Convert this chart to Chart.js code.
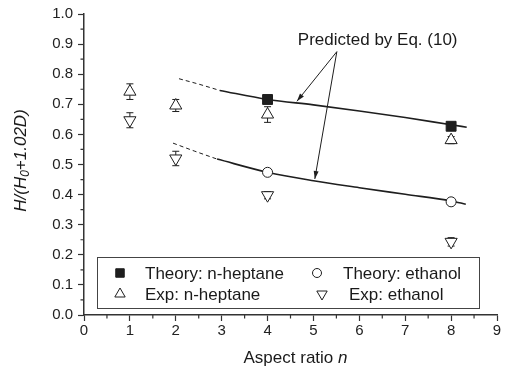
<!DOCTYPE html>
<html lang="en">
<head>
<meta charset="UTF-8">
<title>H/(H0+1.02D) versus aspect ratio</title>
<script src="https://cdn.jsdelivr.net/npm/chart.js@4"></script>
<style>
  html, body { margin: 0; padding: 0; background: #fff; }
  #wrap { width: 510px; height: 375px; }
</style>
</head>
<body>
<div id="wrap"><canvas id="chart"></canvas></div>
<script>
// theory points (Eq. 10) and measurements
const theoryX = [4, 8];
const theoryHeptane = [0.716, 0.627];
const theoryEthanol = [0.474, 0.376];

const expX = [1, 2, 4, 8];
const expHeptane = [0.742, 0.696, 0.666, 0.581];
const expHeptaneErr = [0.026, 0.02, 0.026, 0.012];
const expEthanol = [0.647, 0.52, 0.398, 0.243];
const expEthanolErr = [0.025, 0.024, 0.012, 0.014];

// Eq. (10) curves; the dashed piece is the extension below n = 3
const heptDashX = [2.07, 2.5, 2.96];
const heptDashY = [0.785, 0.767, 0.746];
const heptCurveX = [2.96, 4, 5, 6, 7, 8, 8.34];
const heptCurveY = [0.746, 0.716, 0.698, 0.678, 0.656, 0.632, 0.624];
const ethDashX = [1.94, 2.4, 2.9];
const ethDashY = [0.571, 0.545, 0.518];
const ethCurveX = [2.9, 4, 5, 6, 7, 8, 8.32];
const ethCurveY = [0.518, 0.474, 0.446, 0.423, 0.401, 0.379, 0.368];

// axis ticks
const xTicks = [0, 1, 2, 3, 4, 5, 6, 7, 8, 9];
const xMinor = [0.5, 1.5, 2.5, 3.5, 4.5, 5.5, 6.5, 7.5, 8.5];
const yTicks = [0, 0.1, 0.2, 0.3, 0.4, 0.5, 0.6, 0.7, 0.8, 0.9, 1.0];
const yMinor = [0.05, 0.15, 0.25, 0.35, 0.45, 0.55, 0.65, 0.75, 0.85, 0.95];

// annotation: label position and the two arrow tips (data units)
const noteText = 'Predicted by Eq. (10)';
const noteAt = { x: 6.4, y: 0.911 };
const noteFrom = { x: 5.51, y: 0.875 };
const noteTips = [{ x: 4.64, y: 0.71 }, { x: 5.03, y: 0.452 }];

const INK = '#1e1e1e';
const FONT = "'Liberation Sans', Arial, sans-serif";

const pts = (xs, ys) => xs.map((x, i) => ({ x: x, y: ys[i] }));

function curve(xs, ys, dashed) {
  return {
    type: 'line', data: pts(xs, ys), borderColor: INK, borderWidth: dashed ? 1 : 1.6,
    borderDash: dashed ? [4, 3] : [], pointRadius: 0, tension: 0.4,
    cubicInterpolationMode: 'monotone', fill: false
  };
}

const errorBars = {
  id: 'errorBars',
  beforeDatasetsDraw(chart) {
    const { ctx, scales: { x, y } } = chart;
    ctx.save();
    ctx.strokeStyle = INK;
    ctx.lineWidth = 1;
    chart.data.datasets.forEach(ds => {
      if (!ds.errors) return;
      ds.data.forEach((p, j) => {
        const px = x.getPixelForValue(p.x);
        const top = y.getPixelForValue(p.y + ds.errors[j]);
        const bot = y.getPixelForValue(p.y - ds.errors[j]);
        ctx.beginPath();
        ctx.moveTo(px, top); ctx.lineTo(px, bot);
        ctx.moveTo(px - 3.5, top); ctx.lineTo(px + 3.5, top);
        ctx.moveTo(px - 3.5, bot); ctx.lineTo(px + 3.5, bot);
        ctx.stroke();
      });
    });
    ctx.restore();
  }
};

// minor ticks, axis titles, legend box and the arrow note
const decor = {
  id: 'decor',
  afterDraw(chart) {
    const { ctx, chartArea: a, scales: { x, y } } = chart;
    ctx.save();
    ctx.strokeStyle = '#333';
    ctx.lineWidth = 1.2;
    ctx.beginPath();
    xMinor.forEach(v => { const px = x.getPixelForValue(v); ctx.moveTo(px, a.bottom); ctx.lineTo(px, a.bottom + 3.5); });
    yMinor.forEach(v => { const py = y.getPixelForValue(v); ctx.moveTo(a.left, py); ctx.lineTo(a.left - 3.5, py); });
    ctx.stroke();

    ctx.fillStyle = '#1a1a1a';
    ctx.textBaseline = 'middle';

    // x title: "Aspect ratio n"
    const t1 = 'Aspect ratio ', t2 = 'n';
    ctx.font = '17px ' + FONT;
    const w1 = ctx.measureText(t1).width;
    ctx.font = 'italic 17px ' + FONT;
    const w2 = ctx.measureText(t2).width;
    let sx = (a.left + a.right) / 2 + 5 - (w1 + w2) / 2;
    ctx.textAlign = 'left';
    ctx.font = '17px ' + FONT;
    ctx.fillText(t1, sx, 358);
    ctx.font = 'italic 17px ' + FONT;
    ctx.fillText(t2, sx + w1, 358);

    // y title: H/(H0+1.02D), subscript 0
    ctx.save();
    ctx.translate(21, (a.top + a.bottom) / 2 - 4);
    ctx.rotate(-Math.PI / 2);
    const parts = [['H/(H', 17, 0], ['0', 12, 5], ['+1.02D)', 17, 0]];
    let total = 0;
    parts.forEach(p => { ctx.font = 'italic ' + p[1] + 'px ' + FONT; total += ctx.measureText(p[0]).width; });
    let cx = -total / 2;
    parts.forEach(p => {
      ctx.font = 'italic ' + p[1] + 'px ' + FONT;
      ctx.fillText(p[0], cx, p[2]);
      cx += ctx.measureText(p[0]).width;
    });
    ctx.restore();

    // legend
    ctx.strokeStyle = '#444';
    ctx.lineWidth = 1;
    ctx.strokeRect(97.5, 257.5, 382, 51);
    const cells = [[120, 145, 273], [317, 343, 273], [120, 145, 294], [322, 349, 294]];
    chart.data.datasets.forEach(ds => {
      if (ds.legendCell === undefined) return;
      const c = cells[ds.legendCell];
      ctx.fillStyle = ds.backgroundColor;
      ctx.strokeStyle = INK;
      Chart.helpers.drawPoint(ctx, {
        pointStyle: ds.pointStyle, rotation: ds.pointRotation || 0,
        radius: ds.pointStyle === 'rect' ? 6 : (ds.pointStyle === 'circle' ? 4.5 : 6), borderWidth: 1
      }, c[0], c[2]);
      ctx.fillStyle = '#1a1a1a';
      ctx.font = '17px ' + FONT;
      ctx.textAlign = 'left';
      ctx.fillText(ds.label, c[1], c[2] + 1);
    });

    // note with arrows
    ctx.font = '17px ' + FONT;
    ctx.textAlign = 'center';
    ctx.fillText(noteText, x.getPixelForValue(noteAt.x), y.getPixelForValue(noteAt.y));
    const fx = x.getPixelForValue(noteFrom.x), fy = y.getPixelForValue(noteFrom.y);
    ctx.strokeStyle = INK;
    ctx.fillStyle = INK;
    ctx.lineWidth = 1;
    noteTips.forEach(t => {
      const tx = x.getPixelForValue(t.x), ty = y.getPixelForValue(t.y);
      const ang = Math.atan2(ty - fy, tx - fx);
      ctx.beginPath();
      ctx.moveTo(fx, fy); ctx.lineTo(tx, ty);
      ctx.stroke();
      ctx.beginPath();
      ctx.moveTo(tx, ty);
      ctx.lineTo(tx - 8 * Math.cos(ang) + 2.5 * Math.sin(ang), ty - 8 * Math.sin(ang) - 2.5 * Math.cos(ang));
      ctx.lineTo(tx - 8 * Math.cos(ang) - 2.5 * Math.sin(ang), ty - 8 * Math.sin(ang) + 2.5 * Math.cos(ang));
      ctx.closePath();
      ctx.fill();
    });
    ctx.restore();
  }
};

new Chart(document.getElementById('chart'), {
  type: 'scatter',
  data: {
    datasets: [
      { label: 'Theory: n-heptane', data: pts(theoryX, theoryHeptane), pointStyle: 'rect', pointRadius: 7,
        backgroundColor: INK, borderColor: INK, borderWidth: 1, legendCell: 0 },
      { label: 'Theory: ethanol', data: pts(theoryX, theoryEthanol), pointStyle: 'circle', pointRadius: 5,
        backgroundColor: '#fff', borderColor: INK, borderWidth: 1, legendCell: 1 },
      { label: 'Exp: n-heptane', data: pts(expX, expHeptane), errors: expHeptaneErr, pointStyle: 'triangle', pointRadius: 7,
        backgroundColor: '#fff', borderColor: INK, borderWidth: 1, legendCell: 2 },
      { label: 'Exp: ethanol', data: pts(expX, expEthanol), errors: expEthanolErr, pointStyle: 'triangle', pointRotation: 180, pointRadius: 7,
        backgroundColor: '#fff', borderColor: INK, borderWidth: 1, legendCell: 3 },
      curve(heptDashX, heptDashY, true),
      curve(heptCurveX, heptCurveY, false),
      curve(ethDashX, ethDashY, true),
      curve(ethCurveX, ethCurveY, false)
    ]
  },
  options: {
    responsive: true,
    maintainAspectRatio: false,
    animation: false,
    layout: { padding: { top: 12, right: 13, left: 0, bottom: 0 } },
    plugins: { legend: { display: false }, tooltip: { enabled: false } },
    scales: {
      x: {
        type: 'linear', min: 0, max: 9,
        afterBuildTicks: s => { s.ticks = xTicks.map(v => ({ value: v })); },
        afterFit: s => { s.height = 60; },
        ticks: { color: '#222', font: { family: FONT, size: 15 }, padding: 1, maxRotation: 0 },
        grid: { drawOnChartArea: false, drawTicks: true, tickLength: 6, tickColor: '#333', tickWidth: 1.2 },
        border: { color: '#333', width: 1.5 }
      },
      y: {
        type: 'linear', min: 0, max: 1,
        afterBuildTicks: s => { s.ticks = yTicks.map(v => ({ value: v })); },
        afterFit: s => { s.width = 84; },
        ticks: { color: '#222', font: { family: FONT, size: 15 }, padding: 5, callback: v => v.toFixed(1) },
        grid: { drawOnChartArea: false, drawTicks: true, tickLength: 6, tickColor: '#333', tickWidth: 1.2 },
        border: { color: '#333', width: 1.5 }
      }
    }
  },
  plugins: [errorBars, decor]
});
</script>
</body>
</html>
